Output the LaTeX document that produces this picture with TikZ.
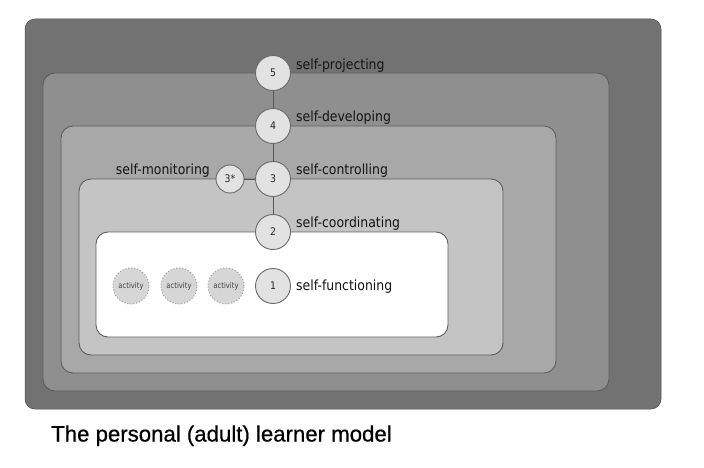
\documentclass[tikz,border=0pt]{standalone}
\usepackage{fontspec}
\newfontfamily\labfont[FakeStretch=0.89]{DejaVu Sans}
\newfontfamily\actfont[FakeStretch=0.85]{DejaVu Sans}
\newfontfamily\capfont[FakeBold=0.6]{Liberation Sans}
\definecolor{cOuter}{HTML}{727272}
\definecolor{cTwo}{HTML}{8F8F8F}
\definecolor{cThree}{HTML}{A8A8A8}
\definecolor{cFour}{HTML}{C4C4C4}
\definecolor{cEdge}{HTML}{5E5E5E}
\definecolor{cCirc}{HTML}{E2E2E2}
\definecolor{cCircEdge}{HTML}{6A6A6A}
\definecolor{cAct}{HTML}{D6D6D6}
\definecolor{cLine}{HTML}{555555}
\begin{document}
\begin{tikzpicture}[x=1pt,y=-1pt,
  layerbox/.style={draw=cEdge, line width=0.9pt, rounded corners=12pt},
  level/.style={circle, fill=cCirc, draw=cCircEdge, line width=0.9pt, minimum size=35pt, inner sep=0pt, font=\labfont\fontsize{10.5}{10.5}\selectfont, text=black!85},
  smalllevel/.style={level, minimum size=28pt},
  activity/.style={circle, fill=cAct, draw=gray!75, dotted, line width=1pt, minimum size=36pt, inner sep=0pt, font=\actfont\fontsize{8}{8}\selectfont, text=black!75},
  lab/.style={font=\labfont\fontsize{14}{14}\selectfont, text=black!92, inner sep=0pt},
  conn/.style={draw=cLine, line width=0.9pt}]
\useasboundingbox (0,0) rectangle (704,468);
\fill[white] (0,0) rectangle (704,468);
% boxes
\filldraw[fill=cOuter, draw=gray!60!black, line width=0.5pt, rounded corners=10pt] (25,19) rectangle (661,409);
\filldraw[layerbox, fill=cTwo] (43,73) rectangle (609,391);
\filldraw[layerbox, fill=cThree] (61,126) rectangle (556,373);
\filldraw[layerbox, fill=cFour] (79,179) rectangle (503,355);
\filldraw[layerbox, fill=white] (96,232) rectangle (448,337);
% circles
\node[level] (n5) at (273,73) {5};
\node[level] (n4) at (273,126) {4};
\node[level] (n3) at (273,179) {3};
\node[level] (n2) at (273,232) {2};
\node[level] (n1) at (273,286) {1};
\node[smalllevel] (n3s) at (230,179) {3*};
\node[activity] (a1) at (131,286) {activity};
\node[activity] (a2) at (179,286) {activity};
\node[activity] (a3) at (226,286) {activity};
% connectors
\draw[conn] (n5) -- (n4);
\draw[conn] (n4) -- (n3);
\draw[conn] (n3) -- (n2);
\draw[conn] (n3s) -- (n3);
% labels
\node[lab, anchor=base west] (l5) at (296,69.5) {self-projecting};
\node[lab, anchor=base west] (l4) at (296,122) {self-developing};
\node[lab, anchor=base west] (l3) at (296,175) {self-controlling};
\node[lab, anchor=base west] (l2) at (296,227.5) {self-coordinating};
\node[lab, anchor=base west] (l1) at (296,290.5) {self-functioning};
\node[lab, anchor=base east] (l3s) at (210,175) {self-monitoring};
% caption
\node[anchor=base west, inner sep=0pt, font=\capfont\fontsize{22.2}{22}\selectfont] (cap) at (51,441.5) {The personal (adult) learner model};
\end{tikzpicture}
\end{document}
